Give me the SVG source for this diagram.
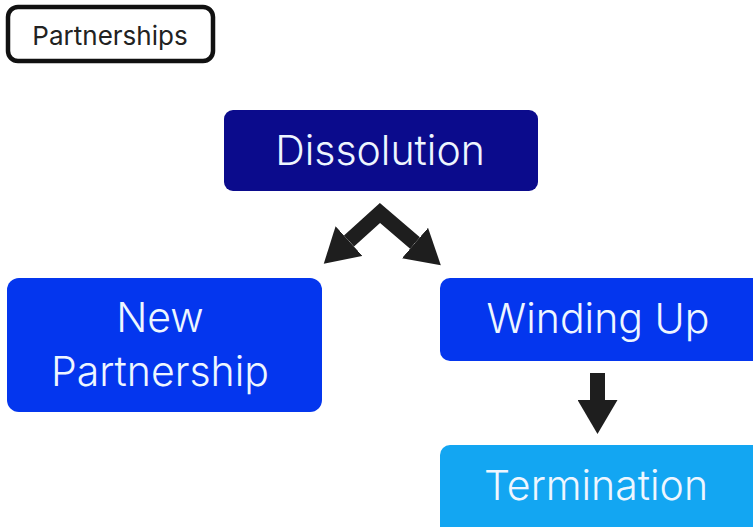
<svg xmlns="http://www.w3.org/2000/svg" width="753" height="527" viewBox="0 0 753 527">
<style>
.lbl{font-family:Inter,"Noto Sans","Liberation Sans",sans-serif;font-weight:300;font-size:41px;fill:#eef6ff;text-anchor:middle}
.hdr{font-family:Inter,"Liberation Sans",sans-serif;font-size:26px;fill:#222}
.conn{fill:none;stroke:#1e1e1e;stroke-width:15;stroke-linejoin:miter}
</style>
<defs>
<marker id="head" markerUnits="userSpaceOnUse" markerWidth="36" markerHeight="40" refX="0" refY="20" orient="auto-start-reverse" viewBox="0 0 36 40">
<path d="M0,0 L34,20 L0,40 z" fill="#1e1e1e"/>
</marker>
</defs>
<rect width="753" height="527" fill="#ffffff"/>
<g id="title">
<rect x="8" y="7" width="205" height="54" rx="10" fill="#fff" stroke="#111" stroke-width="4.5"/>
<text class="hdr" x="110" y="45" text-anchor="middle">Partnerships</text>
</g>
<g id="dissolution">
<rect x="224" y="110" width="314" height="81" rx="9" fill="#0b0b8c"/>
<text class="lbl" x="380" y="165">Dissolution</text>
</g>
<g id="new-partnership">
<rect x="7" y="278" width="315" height="134" rx="12" fill="#0436ee"/>
<text class="lbl" x="160" y="332">New</text>
<text class="lbl" x="160" y="386">Partnership</text>
</g>
<g id="winding-up">
<rect x="440" y="278" width="325" height="83" rx="10" fill="#0436ee"/>
<text class="lbl" x="598" y="333">Winding Up</text>
</g>
<g id="termination">
<rect x="440" y="445" width="325" height="100" rx="10" fill="#13a6f2"/>
<text class="lbl" x="596" y="500">Termination</text>
</g>
<g id="connectors">
<path class="conn" d="M349,241 L380,213 L415,243" marker-start="url(#head)" marker-end="url(#head)"/>
<path class="conn" d="M597.5,373 L597.5,400" marker-end="url(#head)"/>
</g>
</svg>
